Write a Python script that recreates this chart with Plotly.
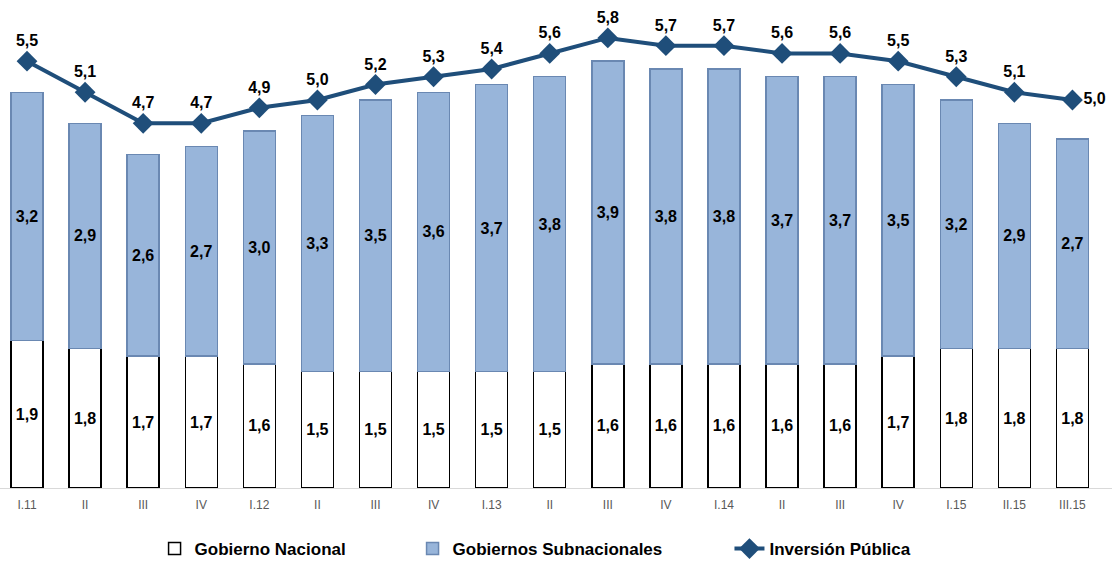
import plotly.graph_objects as go

categories = ["I.11", "II", "III", "IV", "I.12", "II", "III", "IV", "I.13", "II",
              "III", "IV", "I.14", "II", "III", "IV", "I.15", "II.15", "III.15"]
gobierno_nacional = [1.9, 1.8, 1.7, 1.7, 1.6, 1.5, 1.5, 1.5, 1.5, 1.5,
                     1.6, 1.6, 1.6, 1.6, 1.6, 1.7, 1.8, 1.8, 1.8]
gobiernos_subnacionales = [3.2, 2.9, 2.6, 2.7, 3.0, 3.3, 3.5, 3.6, 3.7, 3.8,
                           3.9, 3.8, 3.8, 3.7, 3.7, 3.5, 3.2, 2.9, 2.7]
inversion_publica = [5.5, 5.1, 4.7, 4.7, 4.9, 5.0, 5.2, 5.3, 5.4, 5.6,
                     5.8, 5.7, 5.7, 5.6, 5.6, 5.5, 5.3, 5.1, 5.0]

x = list(range(len(categories)))
FONT = "Arial, Liberation Sans, sans-serif"
LINE_COLOR = "#1F4E7A"

fig = go.Figure()
fig.add_trace(go.Bar(
    x=x, y=gobierno_nacional, name="Gobierno Nacional", legend="legend",
    marker=dict(color="white", line=dict(color="black", width=1.5)),
    texttemplate="<b>%{y:.1f}</b>", textposition="inside", insidetextanchor="middle",
    textangle=0, constraintext="none",
    textfont=dict(family=FONT, size=16, color="black"),
))
fig.add_trace(go.Bar(
    x=x, y=gobiernos_subnacionales, name="Gobiernos Subnacionales", legend="legend2",
    marker=dict(color="#98B5DA", line=dict(color="#6A88B2", width=1.5)),
    texttemplate="<b>%{y:.1f}</b>", textposition="inside", insidetextanchor="middle",
    textangle=0, constraintext="none",
    textfont=dict(family=FONT, size=16, color="black"),
))
positions = ["top center"] * (len(x) - 1) + ["middle right"]
fig.add_trace(go.Scatter(
    x=x, y=inversion_publica, name="Inversión Pública", legend="legend3",
    mode="lines+markers+text",
    line=dict(color=LINE_COLOR, width=4),
    marker=dict(symbol="diamond", size=16, color=LINE_COLOR),
    texttemplate="<b>%{y:.1f}</b>", textposition=positions,
    textfont=dict(family=FONT, size=16, color="black"),
    cliponaxis=False,
))

legend_common = dict(orientation="h", yref="container", yanchor="middle", y=0.0214,
                     xanchor="left",
                     font=dict(family=FONT, size=17, color="black", weight="bold"),
                     bgcolor="rgba(0,0,0,0)")
fig.update_layout(
    width=1112, height=561,
    margin=dict(l=0, r=0, t=0, b=73),
    barmode="stack", bargap=0.449,
    separators=",.",
    plot_bgcolor="white", paper_bgcolor="white",
    font=dict(family=FONT),
    showlegend=True,
    legend=dict(x=0.139, **legend_common),
    legend2=dict(x=0.371, **legend_common),
    legend3=dict(x=0.656, **legend_common),
    hovermode=False,
)
fig.update_xaxes(
    range=[-0.465, 18.681], tickmode="array", tickvals=x, ticktext=categories,
    showgrid=False, zeroline=False, showline=True, linecolor="#D9D9D9", linewidth=1,
    ticks="", tickfont=dict(family=FONT, size=12, color="#595959"),
    ticklabelstandoff=6,
)
fig.update_yaxes(range=[0, 6.289], visible=False, showgrid=False)

fig.write_html("out.html")
